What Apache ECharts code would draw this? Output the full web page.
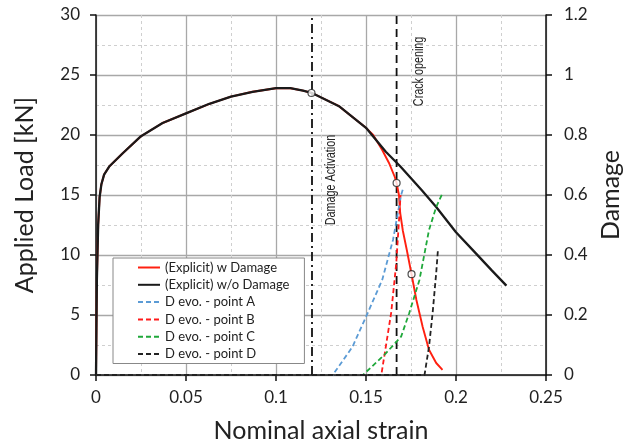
<!DOCTYPE html>
<html><head><meta charset="utf-8">
<script src="https://cdn.jsdelivr.net/npm/echarts@6/dist/echarts.min.js"></script>
<style>html,body{margin:0;padding:0;background:#fff}#c{width:634px;height:448px}</style>
</head><body><div id="c"></div>
<script>
// ---- data ----
const noDmgStrain = [0,0.0005,0.0012,0.002,0.003,0.0045,0.0075,0.015,0.025,0.037,0.05,0.063,0.075,0.087,0.1,0.108,0.115,0.12,0.135,0.15,0.161,0.169,0.175,0.181,0.189,0.2,0.21,0.22,0.228];
const noDmgLoad   = [0,8,12.5,14.8,15.9,16.7,17.4,18.5,19.9,21.0,21.8,22.6,23.2,23.6,23.9,23.9,23.7,23.5,22.4,20.6,18.6,17.4,16.4,15.4,14.0,11.9,10.3,8.7,7.45];
const dmgStrain = [0,0.0005,0.0012,0.002,0.003,0.0045,0.0075,0.015,0.025,0.037,0.05,0.063,0.075,0.087,0.1,0.108,0.115,0.12,0.135,0.15,0.154,0.159,0.163,0.166,0.167,0.1683,0.169,0.1705,0.1727,0.1753,0.178,0.1815,0.185,0.189,0.1925];
const dmgLoad   = [0,8,12.5,14.8,15.9,16.7,17.4,18.5,19.9,21.0,21.8,22.6,23.2,23.6,23.9,23.9,23.7,23.5,22.4,20.6,20.0,18.75,17.6,16.5,16.0,15.0,13.5,12.0,10.4,8.4,6.25,4.0,2.1,1.0,0.42];
const aStrain = [0,0.1315,0.1425,0.150,0.159,0.165,0.1695,0.1705];
const aDamage = [0,0,0.094,0.194,0.317,0.45,0.60,0.62];
const bStrain = [0,0.1585,0.161,0.164,0.1668,0.1686,0.1692];
const bDamage = [0,0,0.094,0.208,0.372,0.54,0.60];
const cStrain = [0,0.1483,0.161,0.1695,0.174,0.1797,0.185,0.189,0.1925];
const cDamage = [0,0,0.072,0.128,0.206,0.317,0.483,0.56,0.606];
const dStrain = [0,0.1825,0.185,0.187,0.189,0.190];
const dDamage = [0,0,0.094,0.206,0.34,0.42];
const markStrain = [0.1197,0.167,0.1753];
const markLoad   = [23.5,16.0,8.4];
const activationStrain = 0.12;
const crackStrain = 0.167;
const seriesNames = ['(Explicit) w Damage','(Explicit) w/o Damage','D evo. - point A','D evo. - point B','D evo. - point C','D evo. - point D'];
const xTitle = 'Nominal axial strain', yTitle = 'Applied Load [kN]', y2Title = 'Damage';
const notes = ['Damage Activation','Crack opening'];

const pairs = (xs, ys) => xs.map((x, i) => [x, ys[i]]);
const F = 'Lato';
const chart = echarts.init(document.getElementById('c'), null, {renderer:'canvas'});
const lineS = (name, xs, ys, color, type, width, yi, z) => ({
  name, type:'line', data:pairs(xs, ys), yAxisIndex:yi, symbol:'none', showSymbol:false,
  lineStyle:{color, type, width}, itemStyle:{color}, z, animation:false
});
chart.setOption({
  animation:false,
  grid:{left:96, right:88, top:15, bottom:73},
  xAxis:{type:'value', min:0, max:0.25, interval:0.05,
    name:xTitle, nameLocation:'middle', nameGap:43,
    nameTextStyle:{fontFamily:F, fontSize:25, color:'#222'},
    axisLine:{show:true, onZero:false, lineStyle:{color:'#111', width:1.5}},
    axisTick:{show:true, length:6, lineStyle:{color:'#111', width:1.5}},
    axisLabel:{fontFamily:F, fontSize:17, color:'#222', margin:14},
    splitLine:{show:true, lineStyle:{color:'#a8a8a8', width:1.3}},
    minorTick:{show:false, splitNumber:2},
    minorSplitLine:{show:true, lineStyle:{color:'#cfcfcf', type:[3,3], width:1}}
  },
  yAxis:[{type:'value', min:0, max:30, interval:5, position:'left',
    name:yTitle, nameLocation:'middle', nameGap:59, nameRotate:90,
    nameTextStyle:{fontFamily:F, fontSize:25, color:'#222'},
    axisLine:{show:true, lineStyle:{color:'#111', width:1.5}},
    axisTick:{show:true, length:6, lineStyle:{color:'#111', width:1.5}},
    axisLabel:{fontFamily:F, fontSize:17, color:'#222', margin:16},
    splitLine:{show:true, lineStyle:{color:'#a8a8a8', width:1.3}},
    minorTick:{show:false, splitNumber:2},
    minorSplitLine:{show:true, lineStyle:{color:'#cfcfcf', type:[3,3], width:1}}
  },{type:'value', min:0, max:1.2, interval:0.2, position:'right',
    name:y2Title, nameLocation:'middle', nameGap:50, nameRotate:90,
    nameTextStyle:{fontFamily:F, fontSize:25, color:'#222'},
    axisLine:{show:true, lineStyle:{color:'#111', width:1.5}},
    axisTick:{show:true, length:6, lineStyle:{color:'#111', width:1.5}},
    axisLabel:{fontFamily:F, fontSize:17, color:'#222', margin:18},
    splitLine:{show:false}
  }],
  legend:{orient:'vertical', left:113, top:258, padding:[3,15,3,24], itemGap:4.3,
    itemWidth:22, itemHeight:14, backgroundColor:'#fff', borderColor:'#888', borderWidth:1,
    itemStyle:{opacity:0, borderWidth:0},
    textStyle:{fontFamily:F, fontSize:13, color:'#222'}, data:seriesNames},
  series:[
    {type:'line', data:[[activationStrain,0],[activationStrain,30]], symbol:'none', silent:true,
      lineStyle:{color:'#111', width:1.8, type:[9,4,2,4]}, z:3},
    {type:'line', data:[[crackStrain,0],[crackStrain,30]], symbol:'none', silent:true,
      lineStyle:{color:'#111', width:1.8, type:[8,5]}, z:3},
    lineS(seriesNames[0], dmgStrain, dmgLoad, '#ff2010', 'solid', 1.9, 0, 4),
    lineS(seriesNames[1], noDmgStrain, noDmgLoad, '#1a1a1a', 'solid', 2.3, 0, 5),
    lineS(seriesNames[2], aStrain, aDamage, '#5b9bd5', [5,3], 1.8, 1, 6),
    lineS(seriesNames[3], bStrain, bDamage, '#ff1a1a', [5,3], 1.8, 1, 6),
    lineS(seriesNames[4], cStrain, cDamage, '#1fa83a', [5,3], 1.8, 1, 6),
    lineS(seriesNames[5], dStrain, dDamage, '#222222', [5,3], 1.8, 1, 7),
    {type:'scatter', data:pairs(markStrain, markLoad), symbol:'circle', symbolSize:7,
      itemStyle:{color:'#fff', borderColor:'#222', borderWidth:1.2}, z:10, silent:true}
  ]
});
const p1 = chart.convertToPixel({xAxisIndex:0, yAxisIndex:0}, [0.1305, 16.25]);
const p2 = chart.convertToPixel({xAxisIndex:0, yAxisIndex:0}, [0.1795, 25.3]);
const noteStyle = {fontFamily:'Liberation Sans', fontSize:14, fill:'#222', align:'center', verticalAlign:'middle'};
chart.setOption({graphic:[
  {type:'text', x:p1[0], y:p1[1], rotation:Math.PI/2, scaleX:0.77, style:Object.assign({text:notes[0]}, noteStyle), z:20},
  {type:'text', x:p2[0], y:p2[1], rotation:Math.PI/2, scaleX:0.77, style:Object.assign({text:notes[1]}, noteStyle), z:20}
]});
</script></body></html>
